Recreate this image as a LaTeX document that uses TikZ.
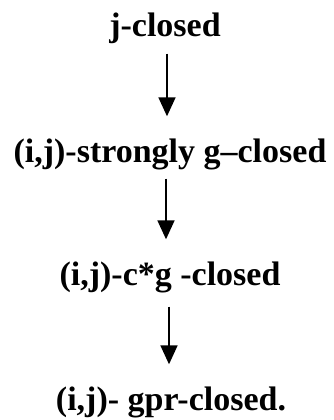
\documentclass[tikz,border=0pt]{standalone}
\usepackage{fontspec}
\setmainfont{Liberation Serif}
\usetikzlibrary{arrows.meta}

\begin{document}
\begin{tikzpicture}[x=1pt,y=-1pt,
    lbl/.style={anchor=base,inner sep=0pt,text height=23.5pt,text depth=7.5pt,
      font=\fontsize{34}{40}\selectfont\bfseries},
    imp/.style={line width=1.8pt,-{Triangle[width=17pt,length=19pt]},
      shorten <=9pt,shorten >=22pt}]
        % ланцюжок імплікацій згори донизу
        \useasboundingbox (0,0) rectangle (333,420);

        \node[lbl] (J) at (165,37) {j-closed};
        \node[lbl] (S) at (170,162) {(i,j)-strongly g--closed};
        \node[lbl] (C) at (170,285) {(i,j)-c*g -closed};
        \node[lbl] (G) at (171,410) {(i,j)- gpr-closed.};

        % стрілки
        \draw[imp] ([xshift=2pt]J.south) -- ([xshift=2pt]J.south |- S.north);
        \draw[imp] ([xshift=-4pt]S.south) -- ([xshift=-4pt]S.south |- C.north);
        \draw[imp,shorten <=14pt] ([xshift=-1pt]C.south) -- ([xshift=-1pt]C.south |- G.north);
    \end{tikzpicture}
\end{document}
